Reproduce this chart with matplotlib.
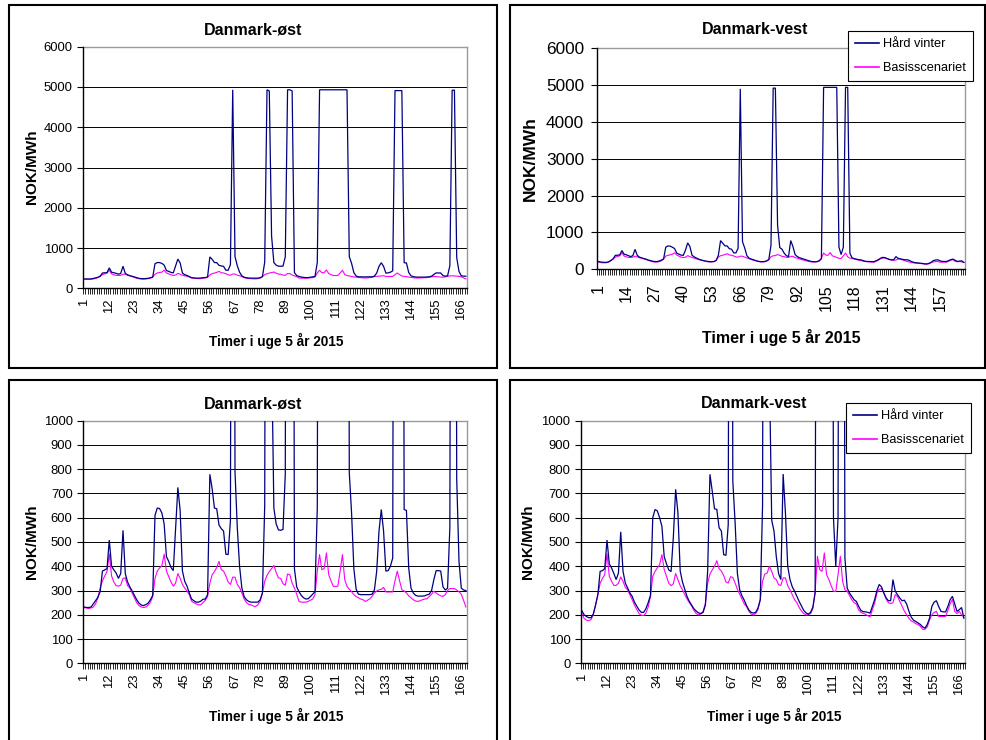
import matplotlib
matplotlib.use('Agg')
import matplotlib.pyplot as plt
import numpy as np
from matplotlib.patches import Rectangle
from matplotlib.ticker import FixedLocator

plt.rcParams['font.family'] = ['Liberation Sans', 'DejaVu Sans']

# ---------------- data ----------------
hours = list(range(1, 169))

ost_hard = [
    232, 230, 230, 232, 245, 258, 272, 295, 380, 385,
    390, 508, 400, 385, 372, 350, 370, 548, 370, 335,
    315, 298, 280, 262, 248, 240, 238, 242, 248, 262,
    280, 610, 640, 638, 620, 575, 440, 420, 395, 382,
    550, 725, 630, 380, 338, 318, 290, 265, 258, 252,
    252, 256, 264, 265, 283, 779, 720, 640, 637, 570,
    555, 545, 450, 448, 590, 4930, 790, 560, 400, 310,
    275, 262, 255, 252, 252, 252, 252, 262, 290, 650,
    4930, 4900, 1300, 640, 575, 550, 548, 552, 780, 4930,
    4930, 4900, 390, 315, 295, 280, 270, 265, 266, 275,
    285, 295, 640, 4930, 4930, 4930, 4930, 4930, 4930, 4930,
    4930, 4930, 4930, 4930, 4930, 4930, 786, 620, 390, 305,
    285, 283, 283, 283, 283, 283, 285, 303, 380, 545,
    634, 545, 380, 382, 400, 434, 4910, 4910, 4910, 4910,
    634, 630, 393, 310, 290, 280, 277, 277, 277, 278,
    282, 285, 300, 345, 382, 382, 380, 315, 302, 310,
    560, 4920, 4920, 760, 420, 310, 302, 300,
]

ost_base = [
    230, 228, 226, 228, 232, 245, 270, 310, 340, 360,
    378, 450, 360, 335, 320, 318, 322, 350, 352, 320,
    310, 290, 270, 250, 238, 232, 230, 232, 240, 252,
    275, 350, 380, 393, 402, 450, 380, 358, 335, 318,
    330, 370, 350, 325, 310, 298, 283, 256, 250, 245,
    241, 241, 250, 260, 275, 330, 365, 378, 395, 420,
    386, 380, 360, 335, 325, 355, 355, 325, 312, 290,
    265, 250, 243, 241, 236, 234, 241, 255, 290, 338,
    362, 378, 390, 404, 375, 352, 350, 328, 322, 368,
    365, 330, 310, 285, 255, 252, 252, 252, 255, 260,
    265, 283, 380, 448, 386, 390, 455, 365, 340, 317,
    317, 318, 380, 448, 345, 317, 305, 295, 283, 275,
    270, 265, 262, 255, 260, 266, 276, 290, 298, 303,
    305, 313, 294, 294, 294, 294, 340, 380, 340, 303,
    298, 290, 278, 270, 262, 257, 255, 258, 262, 265,
    266, 275, 285, 297, 290, 283, 278, 276, 283, 300,
    308, 308, 308, 302, 295, 285, 260, 232,
]

vest_hard = [
    217, 200, 193, 188, 188, 203, 240, 283, 379, 382,
    390, 508, 410, 393, 370, 345, 372, 542, 379, 331,
    310, 290, 276, 252, 236, 220, 210, 210, 225, 250,
    280, 600, 634, 628, 600, 565, 440, 410, 385, 378,
    520, 717, 620, 380, 335, 305, 275, 255, 240, 225,
    215, 208, 205, 210, 240, 380, 779, 710, 637, 634,
    559, 545, 448, 445, 572, 4900, 750, 580, 370, 303,
    278, 260, 238, 220, 210, 207, 210, 228, 262, 650,
    4920, 4920, 1200, 590, 545, 440, 370, 345, 780, 620,
    400, 345, 315, 297, 276, 255, 236, 218, 208, 203,
    210, 232, 290, 4940, 4940, 4940, 4940, 4940, 4940, 4940,
    600, 400, 600, 4940, 4940, 434, 310, 290, 276, 262,
    255, 235, 218, 213, 212, 210, 207, 234, 262, 300,
    325, 315, 290, 270, 258, 258, 345, 297, 283, 269,
    258, 260, 244, 214, 190, 178, 172, 166, 160, 150,
    145, 160, 186, 234, 252, 258, 234, 214, 212, 212,
    234, 262, 276, 245, 214, 221, 230, 186,
]

vest_base = [
    205, 185, 178, 176, 180, 200, 240, 283, 330, 350,
    365, 451, 359, 338, 321, 321, 330, 356, 338, 313,
    303, 283, 262, 240, 222, 205, 198, 197, 207, 232,
    275, 359, 379, 393, 407, 448, 386, 359, 330, 320,
    328, 370, 345, 320, 303, 283, 265, 250, 236, 218,
    205, 200, 203, 214, 245, 330, 368, 385, 400, 423,
    390, 380, 362, 335, 331, 357, 354, 331, 305, 285,
    265, 245, 234, 215, 203, 200, 205, 221, 262, 338,
    368, 372, 400, 379, 352, 345, 324, 321, 352, 352,
    320, 303, 283, 262, 250, 230, 216, 205, 200, 200,
    205, 225, 300, 441, 386, 379, 455, 365, 345, 320,
    297, 296, 365, 441, 338, 303, 297, 280, 262, 250,
    244, 220, 210, 206, 202, 196, 192, 221, 248, 290,
    305, 308, 290, 265, 250, 246, 250, 283, 275, 255,
    236, 215, 200, 185, 175, 170, 163, 160, 152, 140,
    140, 150, 179, 200, 210, 214, 193, 193, 193, 193,
    218, 245, 263, 214, 205, 214, 200, 190,
]

title_ost = "Danmark-øst"
title_vest = "Danmark-vest"
ylabel = "NOK/MWh"
xlabel = "Timer i uge 5 år 2015"
legend_labels = ["Hård vinter", "Basisscenariet"]

HARD_C = '#000080'
BASE_C = '#FF00FF'

# ---------------- layout ----------------
W, H = 987, 740
fig = plt.figure(figsize=(W / 100, H / 100), dpi=100)
fig.patch.set_facecolor('white')


def fx(px):
    return px / W


def fy(py):
    return 1 - py / H


# chart frames
for (x0, y0, x1, y1) in [(9, 5, 497, 368), (510, 5, 985, 368),
                         (9, 380, 497, 760), (510, 380, 985, 760)]:
    fig.patches.append(Rectangle((fx(x0), fy(y1)), fx(x1) - fx(x0), fy(y0) - fy(y1),
                                 transform=fig.transFigure, fill=False,
                                 edgecolor='black', lw=1.5, zorder=0))

panels = [
    dict(rect=(83, 46.7, 467, 288.3), hard=ost_hard, base=ost_base, title=title_ost,
         ymax=6000, ystep=1000, xstep=11, yfs=9.4, xfs=9.4, tfs=11.5, lfs=11, xlfs=9.8,
         title_pos=(253, 30), ylab_pos=(32, 167), xlab_pos=(276, 341), xpad=4.5, ypad=3.5,
         legend=None),
    dict(rect=(596.7, 48.3, 965, 269.3), hard=vest_hard, base=vest_base, title=title_vest,
         ymax=6000, ystep=1000, xstep=13, yfs=12.4, xfs=11.5, tfs=11.5, lfs=12.5, xlfs=11.5,
         title_pos=(755, 29), ylab_pos=(530, 159), xlab_pos=(781, 337), xpad=8, ypad=5,
         legend=(848, 31)),
    dict(rect=(83, 420.7, 467, 663.3), hard=ost_hard, base=ost_base, title=title_ost,
         ymax=1000, ystep=100, xstep=11, yfs=9.4, xfs=9.4, tfs=11.5, lfs=11, xlfs=9.8,
         title_pos=(253, 404), ylab_pos=(32, 542), xlab_pos=(276, 716), xpad=4.5, ypad=3.5,
         legend=None),
    dict(rect=(580.7, 420.7, 965, 663.3), hard=vest_hard, base=vest_base, title=title_vest,
         ymax=1000, ystep=100, xstep=11, yfs=9.4, xfs=9.4, tfs=11.5, lfs=11, xlfs=9.8,
         title_pos=(754, 404), ylab_pos=(528, 542), xlab_pos=(774, 716), xpad=4.5, ypad=3.5,
         legend=(846, 403)),
]

for p in panels:
    l, t, r, b = p['rect']
    ax = fig.add_axes([fx(l), fy(b), (r - l) / W, (b - t) / H])
    ax.set_facecolor('white')
    lh, = ax.plot(hours, p['hard'], color=HARD_C, lw=0.9, zorder=3,
                  solid_joinstyle='miter')
    lb, = ax.plot(hours, p['base'], color=BASE_C, lw=0.8, zorder=2)
    ax.set_xlim(0.5, 168.5)
    ax.set_ylim(0, p['ymax'])
    yt = list(range(0, p['ymax'] + 1, p['ystep']))
    ax.set_yticks(yt)
    ax.set_yticklabels([str(v) for v in yt], fontsize=p['yfs'])
    for v in yt[1:]:
        ax.axhline(v, color='black', lw=0.7, zorder=1)
    xt = hours[::p['xstep']]
    ax.set_xticks(xt)
    ax.set_xticklabels([str(v) for v in xt], rotation=90, fontsize=p['xfs'])
    ax.xaxis.set_minor_locator(FixedLocator(np.arange(0.5, 169, 1)))
    ax.tick_params(axis='x', which='major', length=0, pad=p['xpad'] + 3)
    ax.tick_params(axis='x', which='minor', length=4, width=0.6, direction='out')
    ax.tick_params(axis='y', which='major', length=4, width=0.8, direction='out',
                   pad=p['ypad'])
    for s in ['left', 'bottom']:
        ax.spines[s].set_color('black')
        ax.spines[s].set_linewidth(1.0)
    for s in ['top', 'right']:
        ax.spines[s].set_color('#9a9a9a')
        ax.spines[s].set_linewidth(1.0)
    ax.spines['left'].set_zorder(4)
    ax.spines['bottom'].set_zorder(4)

    fig.text(fx(p['title_pos'][0]), fy(p['title_pos'][1]), p['title'],
             ha='center', va='center', fontsize=p['tfs'], fontweight='bold')
    fig.text(fx(p['ylab_pos'][0]), fy(p['ylab_pos'][1]), ylabel, rotation=90,
             ha='center', va='center', fontsize=p['lfs'], fontweight='bold')
    fig.text(fx(p['xlab_pos'][0]), fy(p['xlab_pos'][1]), xlabel,
             ha='center', va='center', fontsize=p['xlfs'], fontweight='bold')

    if p['legend'] is not None:
        lx, ly = p['legend']
        leg = ax.legend([lh, lb], legend_labels, loc='upper left',
                        bbox_to_anchor=(fx(lx), fy(ly)), bbox_transform=fig.transFigure,
                        borderaxespad=0, frameon=True, fancybox=False, framealpha=1,
                        edgecolor='black', fontsize=9.2, handlelength=1.9,
                        handletextpad=0.3, labelspacing=0.95, borderpad=0.55)
        leg.get_frame().set_linewidth(0.8)
        leg.set_zorder(10)
        for line in leg.get_lines():
            line.set_linewidth(1.2)

fig.savefig('out.png', dpi=100, facecolor='white')
